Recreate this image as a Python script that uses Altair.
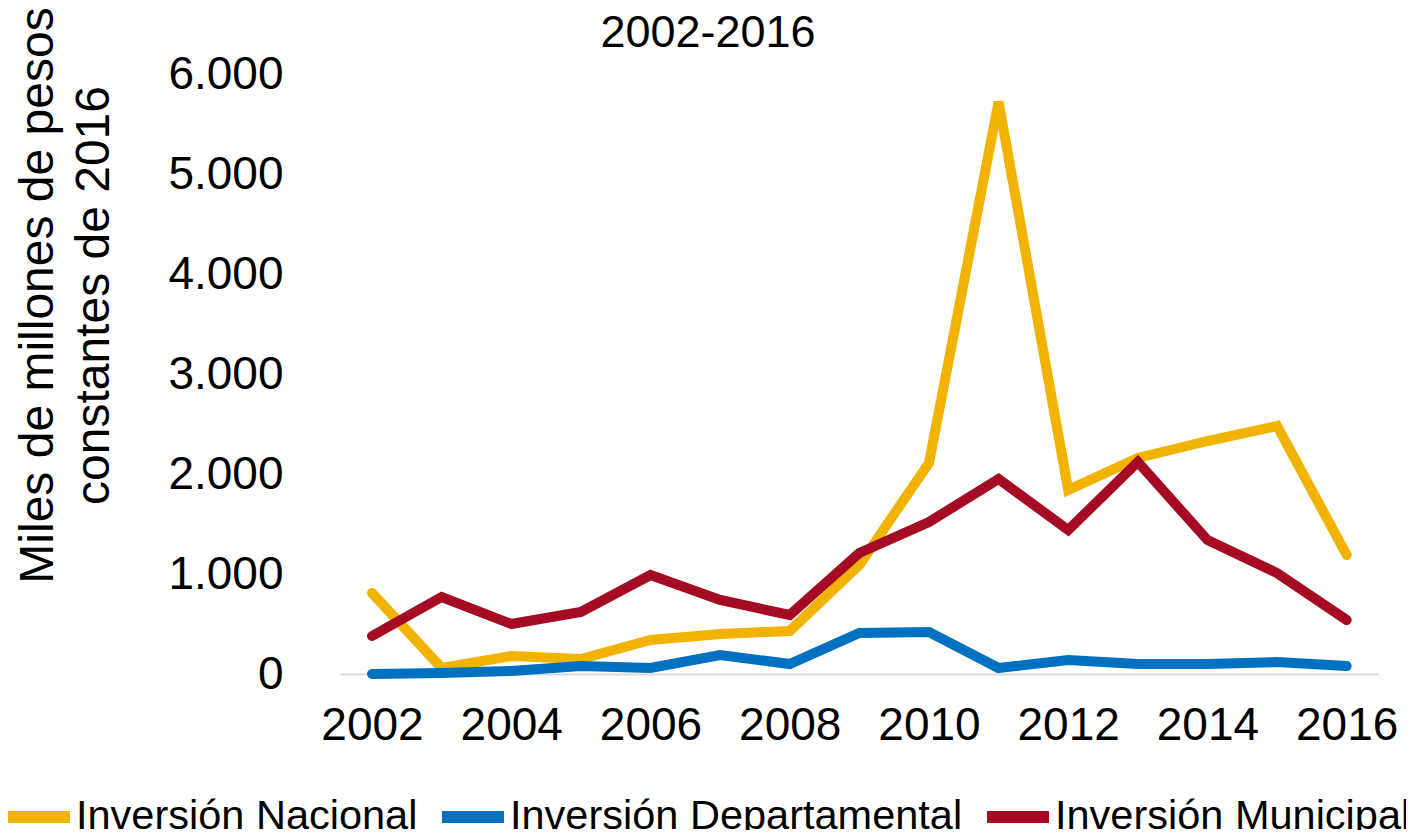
import altair as alt
import pandas as pd

years = list(range(2002, 2017))
nacional = [810, 60, 180, 150, 340, 400, 430, 1090, 2110, 5720, 1840, 2160, 2330, 2480, 1190]
departamental = [0, 10, 30, 80, 60, 190, 100, 410, 420, 60, 140, 100, 100, 120, 80]
municipal = [380, 770, 500, 620, 990, 740, 590, 1210, 1520, 1950, 1440, 2120, 1340, 1010, 540]

series_names = ["Inversión Nacional", "Inversión Departamental", "Inversión Municipal"]
series_colors = ["#F2B300", "#0070C0", "#A50B22"]
x_ticks = [2002, 2004, 2006, 2008, 2010, 2012, 2014, 2016]
y_ticks = [0, 1000, 2000, 3000, 4000, 5000, 6000]
title_text = ["2002-2016"]

rows = []
for name, vals in zip(series_names, [nacional, departamental, municipal]):
    for y, v in zip(years, vals):
        rows.append({"year": y, "value": v, "serie": name})
df = pd.DataFrame(rows)

FONT = "Liberation Sans"

base = alt.Chart(df).mark_line(strokeWidth=10, strokeCap="round").encode(
    x=alt.X("year:Q",
            scale=alt.Scale(domain=[2001.54, 2016.45], nice=False, zero=False),
            axis=alt.Axis(values=x_ticks, format="d", title=None, grid=False,
                          ticks=False, tickSize=0, labelFontSize=46, labelFont=FONT,
                          labelColor="black", labelPadding=29, labelFlush=False,
                          domain=True, domainColor="#d9d9d9", domainWidth=2)),
    y=alt.Y("value:Q",
            scale=alt.Scale(domain=[0, 6000], nice=False),
            axis=alt.Axis(values=y_ticks, grid=False, domain=False, ticks=False, tickSize=0,
                          labelExpr="replace(format(datum.value, ','), ',', '.')",
                          labelFontSize=46, labelFont=FONT, labelColor="black",
                          labelPadding=57, labelBaseline="middle",
                          title=["Miles de millones de pesos", "constantes de 2016"],
                          titleFontSize=48, titleFont=FONT, titleFontWeight="normal",
                          titleColor="black", titleAngle=270, titleAlign="center",
                          titleBaseline="alphabetic", titleLineHeight=56,
                          titleX=-288, titleY=221)),
    color=alt.Color("serie:N",
                    scale=alt.Scale(domain=series_names, range=series_colors),
                    legend=alt.Legend(orient="none", legendX=-342, legendY=706,
                                      direction="horizontal", title=None,
                                      symbolType="stroke", symbolSize=3844,
                                      symbolStrokeWidth=12, symbolOffset=4,
                                      labelFontSize=41.5,
                                      labelFont=FONT, labelColor="black",
                                      labelOffset=0, columnPadding=0, padding=0,
                                      labelLimit=1000)),
)

layers = [base.transform_filter(alt.datum.serie == n) for n in series_names]

title_layer = alt.Chart(pd.DataFrame({"t": title_text})).mark_text(
    font=FONT, fontSize=45, color="black", align="center", baseline="alphabetic"
).encode(text="t:N", x=alt.value(368), y=alt.value(-27))

chart = alt.layer(*layers, title_layer).properties(
    width=1038,
    height=600,
    padding={"left": 332, "top": 66, "right": 28, "bottom": 156},
    autosize=alt.AutoSizeParams(type="none"),
).configure_view(stroke=None)

chart.save("out.html", embed_options={"renderer": "svg", "actions": False})
